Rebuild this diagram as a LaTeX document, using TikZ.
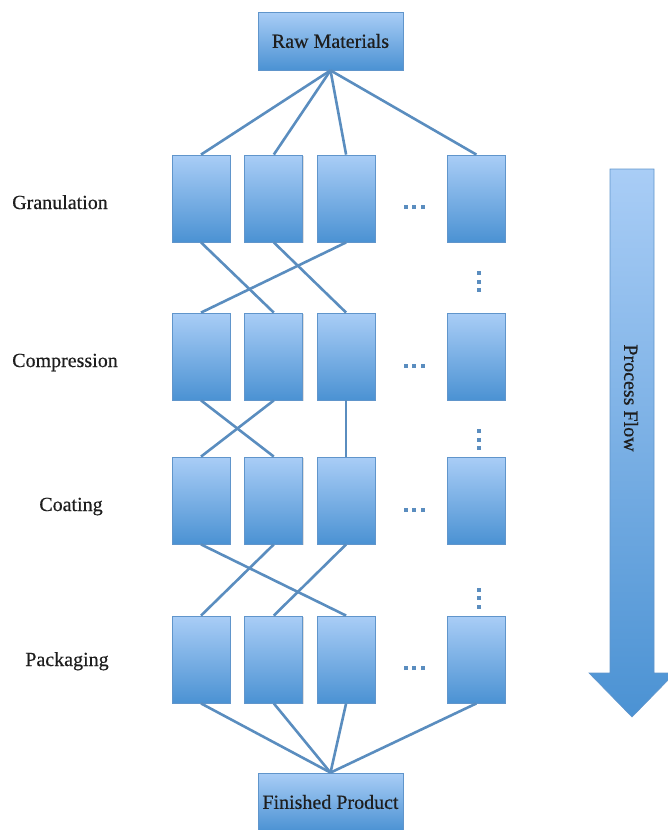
\documentclass[tikz,border=0pt]{standalone}
\usepackage{fontspec}
\setmainfont{Liberation Serif}[BoldFont=Liberation Serif, BoldFeatures={FakeBold=0.5}]
\usetikzlibrary{positioning, shadows}
\definecolor{boxtop}{HTML}{A9CDF6}
\definecolor{boxbottom}{HTML}{4B92D3}
\definecolor{boxedge}{HTML}{6095CB}
\definecolor{linkblue}{HTML}{5A8DBF}
\definecolor{labelgray}{HTML}{1E1E1E}

% three square dots, turned for the vertical ones
\newcommand{\dotmarks}{\rule{4pt}{4pt}\hspace{4.5pt}\rule{4pt}{4pt}\hspace{4.5pt}\rule{4pt}{4pt}}

\begin{document}
\begin{tikzpicture}[
    x=1pt, y=-1pt,
    node distance=14pt,
    unit/.style={rectangle, draw=boxedge, line width=0.8pt,
                 top color=boxtop, bottom color=boxbottom,
                 minimum width=58pt, minimum height=87pt, inner sep=0pt,
                 drop shadow={opacity=0.25, shadow xshift=1pt, shadow yshift=-1.2pt}},
    endbox/.style={unit, minimum width=145pt, minimum height=58pt,
                   font=\fontsize{20}{24}\selectfont\bfseries, text=labelgray},
    stage/.style={font=\fontsize{20}{24}\selectfont\bfseries, text=labelgray, anchor=base},
    link/.style={draw=linkblue, line width=2.6pt},
    more/.style={inner sep=0pt, text=linkblue},
]
\useasboundingbox (0,0) rectangle (667,830);

% Input
\node[endbox] (raw) at (330.5,41) {Raw Materials};

% Granulation
\node[unit] (gran1) at (201,198.5) {};
\node[unit, right=14pt of gran1] (gran2) {};
\node[unit, right=13.5pt of gran2] (gran3) {};
\node[unit, right=71.5pt of gran3] (gran4) {};

% Compression
\node[unit] (comp1) at (201,356.5) {};
\node[unit, right=14pt of comp1] (comp2) {};
\node[unit, right=13.5pt of comp2] (comp3) {};
\node[unit, right=71.5pt of comp3] (comp4) {};

% Coating
\node[unit] (coat1) at (201,500.5) {};
\node[unit, right=14pt of coat1] (coat2) {};
\node[unit, right=13.5pt of coat2] (coat3) {};
\node[unit, right=71.5pt of coat3] (coat4) {};

% Packaging
\node[unit] (pack1) at (201,659.5) {};
\node[unit, right=14pt of pack1] (pack2) {};
\node[unit, right=13.5pt of pack2] (pack3) {};
\node[unit, right=71.5pt of pack3] (pack4) {};

% Output
\node[endbox] (final) at (330.5,802) {Finished Product};

% Stage names
\node[stage] (granlabel) at (60,209) {Granulation};
\node[stage] (complabel) at (65,367) {Compression};
\node[stage] (coatlabel) at (71,511) {Coating};
\node[stage] (packlabel) at (67,666) {Packaging};

% Skipped units
\node[more] (grandots) at (414,207) {\dotmarks};
\node[more] (compdots) at (414,366) {\dotmarks};
\node[more] (coatdots) at (414,510) {\dotmarks};
\node[more] (packdots) at (414,668) {\dotmarks};
\node[more, rotate=90] (gapone) at (479,281.5) {\dotmarks};
\node[more, rotate=90] (gaptwo) at (479,439.5) {\dotmarks};
\node[more, rotate=90] (gapthree) at (479,598) {\dotmarks};

% Links
\draw[link] (raw.south) -- (gran1.north);
\draw[link] (raw.south) -- (gran2.north);
\draw[link] (raw.south) -- (gran3.north);
\draw[link] (raw.south) -- (gran4.north);

\draw[link] (gran1.south) -- (comp2.north);
\draw[link] (gran2.south) -- (comp3.north);
\draw[link] (gran3.south) -- (comp1.north);

\draw[link] (comp1.south) -- (coat2.north);
\draw[link] (comp2.south) -- (coat1.north);
\draw[link] (comp3.south) -- (coat3.north);

\draw[link] (coat1.south) -- (pack3.north);
\draw[link] (coat2.south) -- (pack1.north);
\draw[link] (coat3.south) -- (pack2.north);

\draw[link] (pack1.south) -- (final.north);
\draw[link] (pack2.south) -- (final.north);
\draw[link] (pack3.south) -- (final.north);
\draw[link] (pack4.south) -- (final.north);

% Process flow arrow
\shade[top color=boxtop, bottom color=boxbottom, draw=boxedge, line width=0.6pt]
    (610,169) -- (654,169) -- (654,673) -- (675,673) -- (632,717)
    -- (589,673) -- (610,673) -- cycle;
\node[font=\fontsize{20}{24}\selectfont\bfseries, text=labelgray, rotate=-90] (flowlabel)
    at (631,398) {Process Flow};

\end{tikzpicture}
\end{document}
